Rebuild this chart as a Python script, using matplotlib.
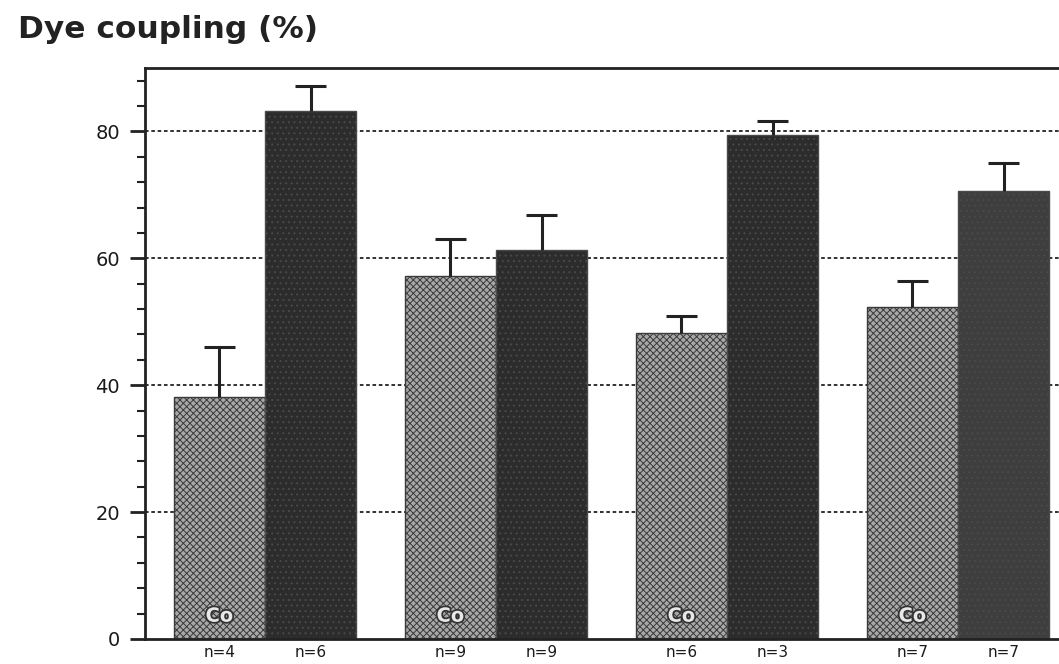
import matplotlib
matplotlib.use("Agg")
import matplotlib.pyplot as plt
import matplotlib.patheffects as pe
import numpy as np

plt.rcParams['font.family'] = ['DejaVu Sans']
plt.rcParams['hatch.linewidth'] = 0.7

# Data
group_pos = [0, 1, 2, 3]
light_vals = [38.1, 57.2, 48.2, 52.3]
light_err = [8.0, 5.8, 2.7, 4.1]
dark_vals = [83.3, 61.3, 79.4, 70.6]
dark_err = [3.9, 5.5, 2.2, 4.4]
light_n = ["n=4", "n=9", "n=6", "n=7"]
dark_n = ["n=6", "n=9", "n=3", "n=7"]
light_label = "Co"
yticks = [0, 20, 40, 60, 80]
grid_vals = [20, 40, 60, 80]
title = "Dye coupling (%)"

W, H = 1059, 664
fig = plt.figure(figsize=(W / 100, H / 100), dpi=100)
ax = fig.add_axes([145 / W, (H - 639) / H, (1075 - 145) / W, (639 - 68) / H])

w = 0.394
cap = 0.065
x = np.array(group_pos, dtype=float)
xl = x - w / 2
xd = x + w / 2

for g in grid_vals:
    ax.axhline(g, color='#222222', lw=1.3, ls=(0, (2, 1.5)), zorder=1)

ax.bar(xl, light_vals, width=w, facecolor='#a8a8a8', edgecolor='#3a3a3a',
       hatch='xxxxx', linewidth=1.0, zorder=2)
dark_colors = ['#2c2c2c', '#2c2c2c', '#2c2c2c', '#3e3e3e']
for xi, v, c in zip(xd, dark_vals, dark_colors):
    ax.bar(xi, v, width=w, facecolor=c, edgecolor='#4a4a4a',
           hatch='...', linewidth=1.0, zorder=2)

for xs, vals, errs in [(xl, light_vals, light_err), (xd, dark_vals, dark_err)]:
    tops = np.array(vals) + np.array(errs)
    ax.vlines(xs, vals, tops, colors='#222222', lw=2.2, zorder=3)
    ax.hlines(tops, xs - cap, xs + cap, colors='#222222', lw=2.2, zorder=3)

for xi in xl:
    ax.text(xi, 3.6, light_label, ha='center', va='center', fontsize=14,
            fontweight='bold', color='#e8e8e8', zorder=4,
            path_effects=[pe.withStroke(linewidth=2.5, foreground='#333333')])

ax.set_xlim((145 - 265) / 231, (1075 - 265) / 231)
ax.set_ylim(0, 90)

ax.set_yticks(yticks)
ax.set_yticklabels([str(t) for t in yticks], fontsize=14, color='#1a1a1a')
ax.set_yticks(np.arange(4, 90, 4), minor=True)
ax.tick_params(axis='y', which='major', direction='out', length=11, width=2,
               color='#222222', pad=7)
ax.tick_params(axis='y', which='minor', direction='out', length=6, width=1.5,
               color='#222222')

xticks = list(xl) + list(xd)
xlabels = light_n + dark_n
ax.set_xticks(xticks)
ax.set_xticklabels(xlabels, fontsize=11, color='#1a1a1a')
ax.tick_params(axis='x', length=0, pad=4)

for s in ['left', 'top', 'bottom']:
    ax.spines[s].set_linewidth(2)
    ax.spines[s].set_color('#222222')
ax.spines['right'].set_visible(False)

fig.text(18 / W, 1 - 30 / H, title, fontsize=22.5, fontweight='bold',
         color='#222222', ha='left', va='center')

fig.savefig('out.png', dpi=100)
